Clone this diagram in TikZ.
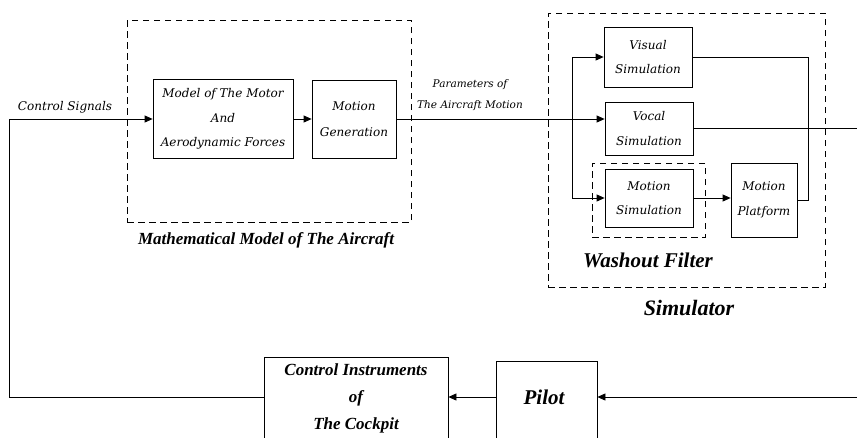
\documentclass[tikz,border=0pt]{standalone}
\usepackage{fontspec}
\setmainfont{Liberation Serif}
\newfontfamily\dvs{DejaVu Serif}
\usetikzlibrary{arrows.meta}
\begin{document}
\begin{tikzpicture}[x=1pt,y=-1pt,
 box/.style={draw, line width=0.8pt, inner sep=0pt, align=center},
 grp/.style={draw, line width=0.8pt, dash pattern=on 6.5pt off 4.5pt, inner sep=0pt},
 lab/.style={font=\dvs\itshape\fontsize{12}{24.5}\selectfont, align=center},
 smalllab/.style={font=\dvs\itshape\fontsize{10.5}{21}\selectfont, align=center, inner sep=0pt},
 arr/.style={line width=0.8pt, -{Triangle[length=8pt,width=7pt]}},
 wire/.style={line width=0.8pt},
 big/.style={font=\bfseries\itshape\fontsize{#1}{27}\selectfont, inner sep=0pt, align=center}
]
\clip (0,0) rectangle (857,437);
\fill[white] (0,0) rectangle (857,437);
% group frames
\node[grp, minimum width=284, minimum height=202] (mm) at (269,121) {};
\node[grp, minimum width=277, minimum height=274] (sim) at (686.5,150) {};
\node[grp, minimum width=113, minimum height=74] (wf) at (648.5,200) {};
% blocks
\node[box, lab, minimum width=140, minimum height=79] (model) at (223,119) {Model of The Motor\\And\\Aerodynamic Forces};
\node[box, lab, minimum width=84, minimum height=78, font=\dvs\itshape\fontsize{12}{26.5}\selectfont] (gen) at (354,119) {Motion\\Generation};
\node[box, lab, minimum width=88, minimum height=60] (vis) at (648,57) {Visual\\Simulation};
\node[box, lab, minimum width=88, minimum height=53] (voc) at (649,128.5) {Vocal\\Simulation};
\node[box, lab, minimum width=88, minimum height=58] (msim) at (649,198) {Motion\\Simulation};
\node[box, lab, minimum width=66, minimum height=74] (plat) at (764,200) {Motion\\Platform};
\node[box, minimum width=184, minimum height=120, anchor=north] (ctrl) at (356,357) {};
\node[box, minimum width=101, minimum height=120, anchor=north] (pilot) at (546.5,361) {};
% labels
\node[smalllab, font=\dvs\itshape\fontsize{12}{14}\selectfont] (cslab) at (65,107) {Control Signals};
\node[smalllab] (par) at (470,95) {Parameters of\\The Aircraft Motion};
\node[big=17] (mmlab) at (266,240) {Mathematical Model of The Aircraft};
\node[big=21] (wflab) at (648,260) {Washout Filter};
\node[big=22] (simlab) at (689,308) {Simulator};
\node[big=17] (ctrllab) at (356,398) {Control Instruments\\of\\The Cockpit};
\node[big=21] (pilotlab) at (544,397) {Pilot};
% connectors
\coordinate (cs) at (9,119);
\coordinate (fb) at (857,397);
\coordinate (vo) at (857,128.5);
\coordinate (sp) at (572,0);
\coordinate (jx) at (808,0);
\draw[arr] (ctrl.west |- fb) -| (cs) -- (model.west);
\draw[arr] (model.east) -- (gen.west);
\draw[arr] (gen.east) -- (gen.east -| voc.west);
\draw[wire] (sp |- vis.west) -- (sp |- msim.west);
\draw[arr] (sp |- vis.west) -- (vis.west);
\draw[arr] (sp |- msim.west) -- (msim.west);
\draw[arr] (msim.east) -- (msim.east -| plat.west);
\draw[wire] (vis.east) -| (jx |- plat.east) -- (plat.east);
\draw[wire] (voc.east) -- (vo);
\draw[arr] (fb) -- (fb -| pilot.east);
\draw[arr] (fb -| pilot.west) -- (fb -| ctrl.east);
\end{tikzpicture}
\end{document}
